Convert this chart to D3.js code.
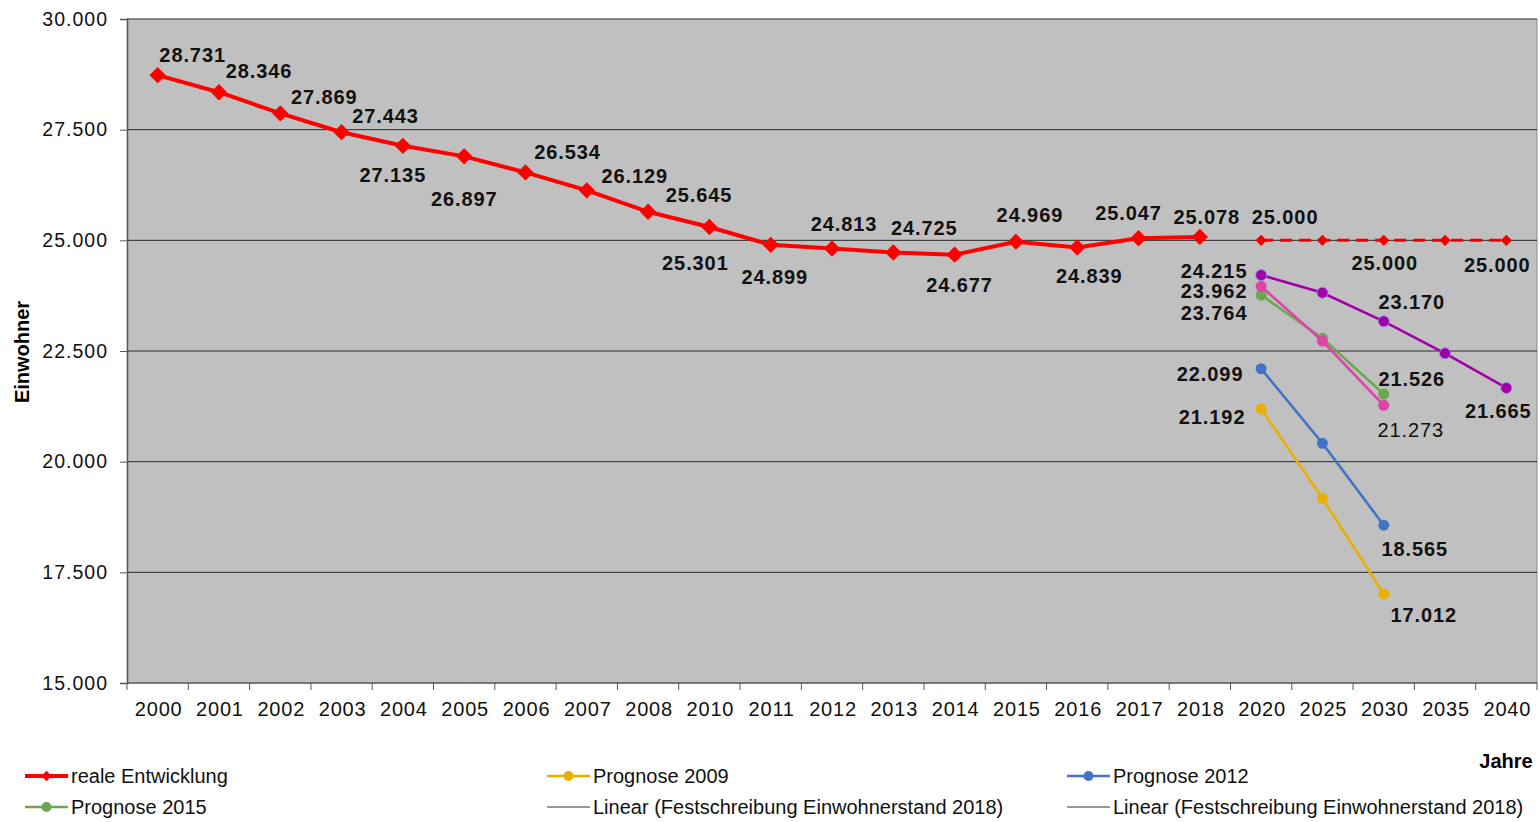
<!DOCTYPE html>
<html>
<head>
<meta charset="utf-8">
<script src="https://cdn.jsdelivr.net/npm/d3@7"></script>
<style>
  html, body { margin: 0; padding: 0; background: #fff; }
  svg { display: block; font-family: "Liberation Sans", Arial, sans-serif; }
</style>
</head>
<body>
<svg id="chart" width="1540" height="822"></svg>
<script>
// Kategorien (2009 fehlt in der Quelle)
const categories = ['2000', '2001', '2002', '2003', '2004', '2005', '2006', '2007', '2008',
  '2010', '2011', '2012', '2013', '2014', '2015', '2016', '2017', '2018',
  '2020', '2025', '2030', '2035', '2040'];

const realYears = categories.slice(0, 18);
const realValues = [28731, 28346, 27869, 27443, 27135, 26897, 26534, 26129, 25645,
  25301, 24899, 24813, 24725, 24677, 24969, 24839, 25047, 25078];

const festYears = ['2020', '2025', '2030', '2035', '2040'];
const festValues = [25000, 25000, 25000, 25000, 25000];

const progYears = ['2020', '2025', '2030'];
const prog2009 = [21192, 19172, 17012];
const prog2012 = [22099, 20415, 18565];
const prog2015 = [23764, 22787, 21526];
const progPink = [23962, 22726, 21273];

const purpleYears = ['2020', '2025', '2030', '2035', '2040'];
const progPurple = [24215, 23817, 23170, 22448, 21665];

const yTicks = [15000, 17500, 20000, 22500, 25000, 27500, 30000];

// Label-Platzierung (dx, dy relativ zum Punkt), null = kein Label
const realLabelPos = [[35, -20], [40, -21], [44, -16], [44, -16], [-10, 29], [0, 43], [42, -20],
  [48, -14], [51, -17], [-14, 36], [4, 32], [12, -25], [31, -25], [5, 30], [14, -27], [12, 29],
  [-10, -25], [7, -20]];
const festLabelPos = [[24, -23], null, [1, 23], null, [-9, 25]];
const purpleLabelPos = [[-47, -4], null, [28, -19], null, [-8, 23]];
const pinkLabelPos = [[-47, 5], null, [27, 25]];
const greenLabelPos = [[-47, 18], null, [28, -15]];
const blueLabelPos = [[-51, 5], null, [31, 24]];
const goldLabelPos = [[-49, 8], null, [40, 21]];

const fmt = d3.formatLocale({ decimal: ',', thousands: '.', grouping: [3], currency: ['', ''] }).format(',d');

const svg = d3.select('#chart');
const plotLeft = 127, plotRight = 1537, plotTop = 19, plotBottom = 683;

const x = d3.scaleBand().domain(categories).range([plotLeft, plotRight]).padding(0);
const cx = c => x(c) + x.bandwidth() / 2;
const y = d3.scaleLinear().domain([15000, 30000]).range([plotBottom, plotTop]);

// Plotfläche
svg.append('rect')
  .attr('x', plotLeft).attr('y', plotTop)
  .attr('width', plotRight - plotLeft).attr('height', plotBottom - plotTop)
  .attr('fill', '#c0c0c0');
svg.append('line')
  .attr('x1', plotRight).attr('x2', plotRight)
  .attr('y1', plotTop).attr('y2', plotBottom)
  .attr('stroke', '#8a8a8a').attr('stroke-width', 1);

// Gitterlinien
svg.append('g')
  .selectAll('line')
  .data(yTicks.slice(1))
  .join('line')
  .attr('x1', plotLeft).attr('x2', plotRight)
  .attr('y1', d => y(d)).attr('y2', d => y(d))
  .attr('stroke', '#2a2a2a')
  .attr('stroke-width', 1);

// Y-Achse
const yAxis = svg.append('g')
  .attr('transform', `translate(${plotLeft},0)`)
  .call(d3.axisLeft(y).tickValues(yTicks).tickFormat(fmt).tickSize(7).tickPadding(12));
yAxis.select('.domain').attr('stroke', '#555').attr('stroke-width', 1.5);
yAxis.selectAll('.tick line').attr('stroke', '#555');
yAxis.selectAll('text')
  .attr('font-size', 19.5).attr('fill', '#111')
  .attr('letter-spacing', '1px')
  .attr('font-family', '"Liberation Sans", Arial, sans-serif');

// X-Achse
svg.append('line')
  .attr('x1', plotLeft).attr('x2', plotRight)
  .attr('y1', plotBottom).attr('y2', plotBottom)
  .attr('stroke', '#555').attr('stroke-width', 1.5);
svg.append('g')
  .selectAll('line')
  .data(categories.map(c => x(c)).concat([plotRight]))
  .join('line')
  .attr('x1', d => d).attr('x2', d => d)
  .attr('y1', plotBottom).attr('y2', plotBottom + 7)
  .attr('stroke', '#555');
svg.append('g')
  .selectAll('text')
  .data(categories)
  .join('text')
  .attr('x', d => cx(d) + 1)
  .attr('y', 709)
  .attr('text-anchor', 'middle')
  .attr('dominant-baseline', 'central')
  .attr('font-size', 20)
  .attr('letter-spacing', '0.8px')
  .attr('fill', '#111')
  .text(d => d);

// Achsentitel
svg.append('text')
  .attr('transform', 'translate(22,352) rotate(-90)')
  .attr('text-anchor', 'middle')
  .attr('dominant-baseline', 'central')
  .attr('font-size', 20).attr('font-weight', 'bold')
  .text('Einwohner');
svg.append('text')
  .attr('x', 1506).attr('y', 761)
  .attr('text-anchor', 'middle')
  .attr('dominant-baseline', 'central')
  .attr('font-size', 20).attr('font-weight', 'bold')
  .text('Jahre');

const line = d3.line().x(d => cx(d.c)).y(d => y(d.v));
const diamond = d3.symbol().type(d3.symbolDiamond2);

function drawSeries(years, values, opts) {
  const pts = years.map((c, i) => ({ c, v: values[i], i }));
  const g = svg.append('g');
  g.append('path')
    .datum(pts)
    .attr('d', line)
    .attr('fill', 'none')
    .attr('stroke', opts.color)
    .attr('stroke-width', opts.width)
    .attr('stroke-dasharray', opts.dash || null);
  if (opts.marker === 'diamond') {
    g.selectAll('path.m')
      .data(pts)
      .join('path')
      .attr('class', 'm')
      .attr('transform', d => `translate(${cx(d.c)},${y(d.v)})`)
      .attr('d', diamond.size(opts.msize))
      .attr('fill', opts.color);
  } else {
    g.selectAll('circle')
      .data(pts)
      .join('circle')
      .attr('cx', d => cx(d.c))
      .attr('cy', d => y(d.v))
      .attr('r', opts.msize)
      .attr('fill', opts.color)
      .attr('stroke', opts.mstroke || 'none')
      .attr('stroke-width', 0.8);
  }
  const labelled = pts.filter(d => opts.labels[d.i]);
  svg.append('g')
    .selectAll('text')
    .data(labelled)
    .join('text')
    .attr('x', d => cx(d.c) + opts.labels[d.i][0])
    .attr('y', d => y(d.v) + opts.labels[d.i][1])
    .attr('text-anchor', 'middle')
    .attr('dominant-baseline', 'central')
    .attr('font-size', 20)
    .attr('letter-spacing', '0.9px')
    .attr('font-weight', d => (opts.normalAt && opts.normalAt.includes(d.i)) ? 'normal' : 'bold')
    .attr('fill', '#111')
    .text(d => fmt(d.v));
}

drawSeries(festYears, festValues, { color: '#f00000', width: 3, dash: '12,7', marker: 'diamond', msize: 80, labels: festLabelPos });
drawSeries(progYears, prog2009, { color: '#e8b000', width: 2.6, marker: 'circle', msize: 5.5, labels: goldLabelPos });
drawSeries(progYears, prog2012, { color: '#4472c4', width: 2.6, marker: 'circle', msize: 5.5, labels: blueLabelPos });
drawSeries(progYears, prog2015, { color: '#6aa84f', width: 2.6, marker: 'circle', msize: 5.5, labels: greenLabelPos });
drawSeries(progYears, progPink, { color: '#dd44a8', width: 2.6, marker: 'circle', msize: 5.5, labels: pinkLabelPos, normalAt: [2] });
drawSeries(purpleYears, progPurple, { color: '#a000a8', width: 2.6, marker: 'circle', msize: 5.5, mstroke: '#9a8cf0', labels: purpleLabelPos });
drawSeries(realYears, realValues, { color: '#ff0000', width: 4, marker: 'diamond', msize: 170, labels: realLabelPos });

// Legende
const legendItems = [
  { name: 'reale Entwicklung', color: '#ff0000', width: 4, marker: 'diamond', col: 0, row: 0 },
  { name: 'Prognose 2009', color: '#e8b000', width: 2.6, marker: 'circle', col: 1, row: 0 },
  { name: 'Prognose 2012', color: '#4472c4', width: 2.6, marker: 'circle', col: 2, row: 0 },
  { name: 'Prognose 2015', color: '#6aa84f', width: 2.6, marker: 'circle', col: 0, row: 1 },
  { name: 'Linear (Festschreibung Einwohnerstand 2018)', color: '#333', width: 1, marker: null, col: 1, row: 1 },
  { name: 'Linear (Festschreibung Einwohnerstand 2018)', color: '#333', width: 1, marker: null, col: 2, row: 1 }
];
const colX = [25, 547, 1067];
const rowY = [776, 807];

const lg = svg.append('g')
  .selectAll('g')
  .data(legendItems)
  .join('g')
  .attr('transform', d => `translate(${colX[d.col]},${rowY[d.row]})`);
lg.append('line')
  .attr('x1', 0).attr('x2', 43)
  .attr('stroke', d => d.color)
  .attr('stroke-width', d => d.width);
lg.filter(d => d.marker === 'circle')
  .append('circle')
  .attr('cx', 21.5).attr('r', 5)
  .attr('fill', d => d.color);
lg.filter(d => d.marker === 'diamond')
  .append('path')
  .attr('transform', 'translate(21.5,0)')
  .attr('d', diamond.size(70))
  .attr('fill', d => d.color);
lg.append('text')
  .attr('x', 46)
  .attr('dominant-baseline', 'central')
  .attr('font-size', 20)
  .attr('fill', '#111')
  .text(d => d.name);
</script>
</body>
</html>
